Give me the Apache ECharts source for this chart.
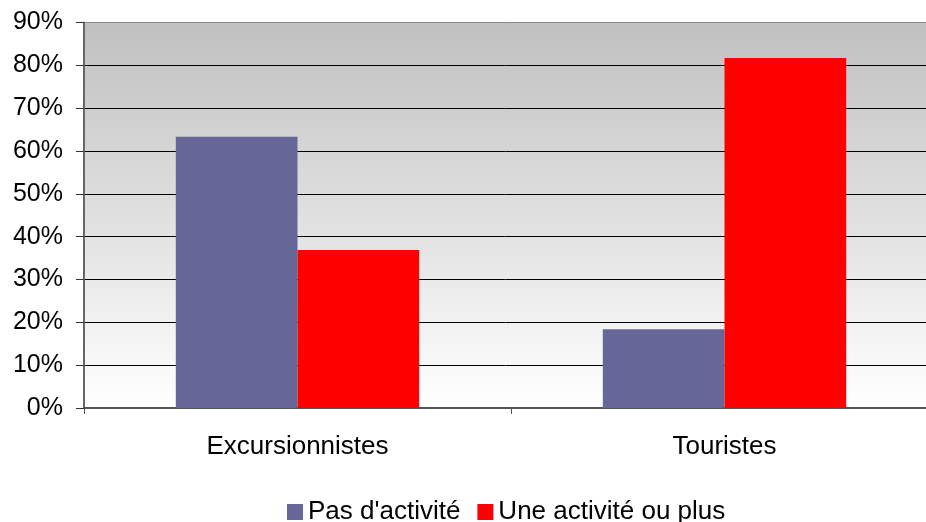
<!DOCTYPE html>
<html><head><meta charset="utf-8">
<script src="https://cdn.jsdelivr.net/npm/echarts@6/dist/echarts.min.js"></script>
<style>html,body{margin:0;padding:0;background:#fff}#c{width:926px;height:522px}</style>
</head><body><div id="c"></div>
<script>
const categories = ["Excursionnistes", "Touristes"];
const pasActivite = [63.3, 18.4];
const uneActivite = [36.9, 81.7];
const seriesNames = ["Pas d'activité", "Une activité ou plus"];
const font = "Liberation Sans, Arial, sans-serif";
const chart = echarts.init(document.getElementById('c'));
chart.setOption({
  animation: false,
  textStyle: {fontFamily: font},
  grid: {left: 84, top: 22.5, width: 854, height: 385.5, show: true, borderWidth: 0,
    outerBoundsMode: 'none', containLabel: false,
    backgroundColor: new echarts.graphic.LinearGradient(0, 0, 0, 1, [
      {offset: 0, color: '#c0c0c0'}, {offset: 1, color: '#ffffff'}])},
  legend: {top: 494, left: 282, itemWidth: 16, itemHeight: 16, itemGap: 17,
    icon: 'rect', textStyle: {fontSize: 26, color: '#000', fontFamily: font}},
  xAxis: {type: 'category', data: categories,
    axisLine: {lineStyle: {color: '#555', width: 2}},
    axisTick: {show: true, length: 6, lineStyle: {color: '#555', width: 1}},
    axisLabel: {fontSize: 26, color: '#000', margin: 26, fontFamily: font}},
  yAxis: {type: 'value', min: 0, max: 90, interval: 10,
    axisLine: {show: true, lineStyle: {color: '#666', width: 2}},
    axisTick: {show: true, length: 8, lineStyle: {color: '#333'}},
    axisLabel: {fontSize: 25, color: '#000', margin: 21, formatter: '{value}%', fontFamily: font},
    splitLine: {show: true, lineStyle: {color: ['#000','#000','#000','#000','#000','#000','#000','#000','#000','#888'], width: 1}}},
  series: [
    {name: seriesNames[0], type: 'bar', data: pasActivite, barGap: '0%', barCategoryGap: '43%',
      itemStyle: {color: '#666699'}},
    {name: seriesNames[1], type: 'bar', data: uneActivite, itemStyle: {color: '#ff0000'}}
  ]
});
</script></body></html>
